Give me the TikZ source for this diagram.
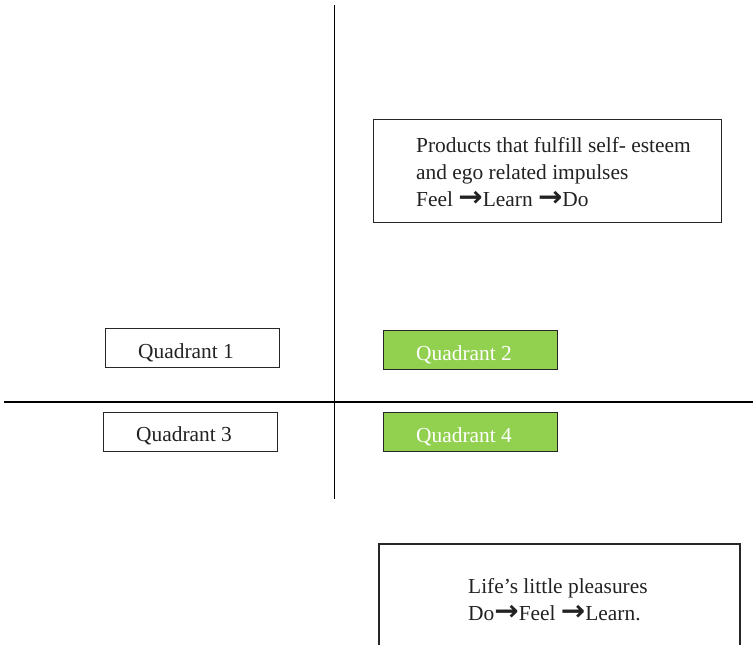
\documentclass[tikz,border=0pt]{standalone}
\usepackage{fontspec}
\setmainfont{Liberation Serif}
\newfontfamily\arrowfont{DejaVu Sans}
\newcommand\arr{{\arrowfont\bfseries\fontsize{26}{26}\selectfont\raisebox{-0.5pt}{\scalebox{1.12}[1.08]{→}}}}
\definecolor{qgreen}{HTML}{92D050}
\definecolor{txt}{HTML}{222222}
\begin{document}
\begin{tikzpicture}[x=1pt,y=-1pt,
  frame/.style={draw=black!85,line width=1.3pt},
  qbox/.style={frame,minimum width=174pt,minimum height=39pt,inner sep=0pt,anchor=north west},
  gbox/.style={qbox,fill=qgreen},
  lbl/.style={anchor=base west,inner sep=0pt,text=txt,font=\fontsize{21.4}{27}\selectfont},
  wlbl/.style={lbl,text=white}]
\useasboundingbox (0,0) rectangle (753,645);
% axes
\coordinate (vtop) at (334.5,5);
\coordinate (vbot) at (334.5,499);
\coordinate (hl) at (4,402);
\coordinate (hr) at (753,402);
\draw[line width=1.3pt] (vtop) -- (vbot);
\draw[line width=1.3pt] (hl) -- (hr);
% top box
\node[frame,anchor=north west,minimum width=348pt,minimum height=103pt,inner sep=0pt] (topbox) at (372.5,119) {};
\node[lbl] (t1) at (416,152) {Products that fulfill self- esteem};
\node[lbl] (t2) at (416,179) {and ego related impulses};
\node[lbl] (t3) at (416,206) {Feel \arr Learn \arr Do};
% quadrants
\node[qbox] (q1) at (105,328) {};
\node[lbl] (q1t) at (138,358) {Quadrant 1};
\node[gbox] (q2) at (383,330) {};
\node[wlbl] (q2t) at (416,360) {Quadrant 2};
\node[qbox] (q3) at (103,412) {};
\node[lbl] (q3t) at (136,441) {Quadrant 3};
\node[gbox] (q4) at (383,412) {};
\node[wlbl] (q4t) at (416,442) {Quadrant 4};
% bottom box
\coordinate (b1) at (379,650);
\coordinate (b2) at (379,544);
\coordinate (b3) at (740,544);
\coordinate (b4) at (740,650);
\draw[frame] (b1) -- (b2) -- (b3) -- (b4);
\node[lbl] (l1) at (468,593) {Life’s little pleasures};
\node[lbl] (l2) at (468,620) {Do\arr Feel \arr Learn.};
\end{tikzpicture}
\end{document}
